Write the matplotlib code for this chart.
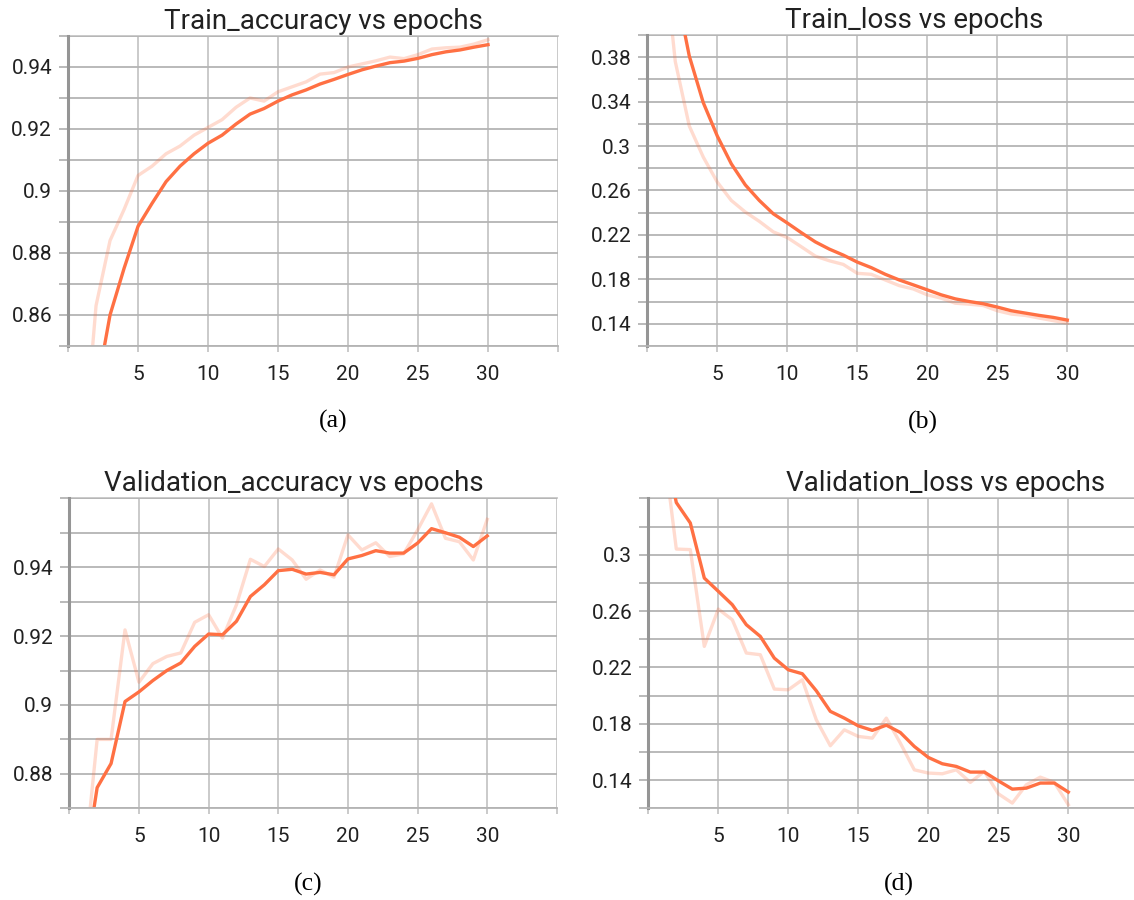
import matplotlib
matplotlib.use("Agg")
import matplotlib.pyplot as plt
from matplotlib.ticker import FixedLocator, NullFormatter

epochs = list(range(1, 31))

# raw (faint) and smoothed (solid) curves per metric
train_acc_raw = [0.809, 0.863, 0.884, 0.894, 0.905, 0.908, 0.912, 0.9145, 0.918, 0.9205,
                 0.923, 0.927, 0.930, 0.929, 0.932, 0.9336, 0.9352, 0.9377, 0.9382, 0.940,
                 0.941, 0.942, 0.9432, 0.9427, 0.944, 0.9458, 0.9462, 0.9464, 0.9474, 0.9488]
train_acc_smooth = [0.809, 0.835, 0.860, 0.875, 0.8886, 0.896, 0.903, 0.908, 0.912, 0.9154,
                    0.918, 0.9216, 0.9248, 0.9266, 0.929, 0.931, 0.9326, 0.9345, 0.936, 0.9376,
                    0.9391, 0.9403, 0.9414, 0.9419, 0.9428, 0.944, 0.9449, 0.9455, 0.9464, 0.9472]

train_loss_raw = [0.496, 0.376, 0.318, 0.290, 0.2675, 0.251, 0.2406, 0.2322, 0.2227, 0.2176,
                  0.2093, 0.2009, 0.1967, 0.1934, 0.1854, 0.1845, 0.1794, 0.1743, 0.1713, 0.166,
                  0.163, 0.1585, 0.1576, 0.1564, 0.1517, 0.1487, 0.1475, 0.1451, 0.1428, 0.1406]
train_loss_smooth = [0.496, 0.444, 0.381, 0.339, 0.309, 0.284, 0.265, 0.251, 0.239, 0.2307,
                     0.222, 0.2137, 0.2072, 0.2018, 0.1955, 0.1905, 0.1845, 0.1794, 0.175, 0.1705,
                     0.166, 0.1624, 0.160, 0.158, 0.155, 0.1517, 0.1496, 0.1475, 0.1457, 0.1433]

val_acc_raw = [0.850, 0.890, 0.890, 0.9218, 0.9066, 0.912, 0.9141, 0.9151, 0.924, 0.9262,
               0.9194, 0.9291, 0.9423, 0.9402, 0.9453, 0.9421, 0.9365, 0.9392, 0.9371, 0.9494,
               0.945, 0.9471, 0.9431, 0.9439, 0.9508, 0.9584, 0.9484, 0.9474, 0.9421, 0.9539]
val_acc_smooth = [0.850, 0.876, 0.883, 0.901, 0.9038, 0.9071, 0.910, 0.9122, 0.917, 0.9206,
                  0.9204, 0.9243, 0.9315, 0.9349, 0.939, 0.9394, 0.938, 0.9385, 0.9378, 0.9424,
                  0.9434, 0.9448, 0.9441, 0.9441, 0.947, 0.9512, 0.950, 0.9487, 0.946, 0.9491]

val_loss_raw = [0.384, 0.304, 0.3036, 0.2349, 0.2614, 0.2538, 0.2302, 0.229, 0.2046, 0.2041,
                0.2112, 0.1828, 0.1644, 0.1757, 0.171, 0.1698, 0.184, 0.1663, 0.1473, 0.145,
                0.1445, 0.1473, 0.1384, 0.1462, 0.1303, 0.1237, 0.1367, 0.1421, 0.1384, 0.1225]
val_loss_smooth = [0.384, 0.337, 0.3225, 0.2834, 0.274, 0.2645, 0.2503, 0.242, 0.2266, 0.2183,
                   0.2155, 0.2034, 0.1888, 0.184, 0.1785, 0.1753, 0.179, 0.1738, 0.1639, 0.1561,
                   0.1516, 0.1497, 0.1457, 0.1457, 0.1395, 0.1336, 0.1343, 0.1379, 0.1379, 0.1315]

ORANGE = "#ff7043"
GRID = "#b4b4b4"
VGRID = "#c6c6c6"
TEXT = "#212121"

plt.rcParams["font.family"] = ["Roboto", "DejaVu Sans"]

fig = plt.figure(figsize=(11.34, 9), dpi=100)

panels = [
    # rect, title, title x, raw, smooth, ylim, labelled ticks, all grid ticks, caption, caption pos
    ([0.0600, 0.6156, 0.4321, 0.3444], "Train_accuracy vs epochs", 0.522,
     train_acc_raw, train_acc_smooth, (0.85, 0.95),
     [0.86, 0.88, 0.90, 0.92, 0.94], [0.85, 0.87, 0.89, 0.91, 0.93, 0.95],
     "(a)", (333, 421)),
    ([0.5708, 0.6156, 0.4321, 0.3456], "Train_loss vs epochs", 0.545,
     train_loss_raw, train_loss_smooth, (0.12, 0.40),
     [0.14, 0.18, 0.22, 0.26, 0.30, 0.34, 0.38], [0.12, 0.16, 0.20, 0.24, 0.28, 0.32, 0.36, 0.40],
     "(b)", (923, 422)),
    ([0.0611, 0.1019, 0.4300, 0.3444], "Validation_accuracy vs epochs", 0.461,
     val_acc_raw, val_acc_smooth, (0.87, 0.96),
     [0.88, 0.90, 0.92, 0.94], [0.87, 0.89, 0.91, 0.93, 0.95, 0.96],
     "(c)", (308, 884)),
    ([0.5717, 0.1019, 0.4321, 0.3444], "Validation_loss vs epochs", 0.606,
     val_loss_raw, val_loss_smooth, (0.12, 0.34),
     [0.14, 0.18, 0.22, 0.26, 0.30], [0.12, 0.16, 0.20, 0.24, 0.28, 0.32, 0.34],
     "(d)", (899, 884)),
]

for rect, title, tx, raw, smooth, ylim, major, minor, cap, cpos in panels:
    ax = fig.add_axes(rect)
    ax.plot(epochs, raw, color=ORANGE, alpha=0.25, lw=2.4)
    ax.plot(epochs, smooth, color=ORANGE, lw=2.4)
    ax.set_xlim(0, 35)
    ax.set_ylim(*ylim)

    ax.xaxis.set_major_locator(FixedLocator([0, 5, 10, 15, 20, 25, 30, 35]))
    ax.set_xticklabels(["", "5", "10", "15", "20", "25", "30", ""])
    ax.yaxis.set_major_locator(FixedLocator(major))
    ax.yaxis.set_minor_locator(FixedLocator(minor))
    ax.yaxis.set_minor_formatter(NullFormatter())
    ax.set_yticklabels([("%.2f" % v).rstrip("0").rstrip(".") for v in major])

    ax.grid(True, which="both", axis="y", color=GRID, lw=1.3)
    ax.grid(True, which="major", axis="x", color=VGRID, lw=1.3)
    ax.set_axisbelow(True)
    # top edge line sits on the last grid value
    ax.axhline(ylim[1], color=VGRID, lw=1.3, clip_on=False, zorder=0.5)

    ax.tick_params(axis="y", which="both", length=6.5, width=1.3, color=GRID,
                   labelsize=15, labelcolor=TEXT, pad=5)
    ax.tick_params(axis="x", length=4.5, width=1.3, color=VGRID,
                   labelsize=15, labelcolor=TEXT, pad=9)

    for side in ["top", "right"]:
        ax.spines[side].set_visible(False)
    ax.spines["bottom"].set_color(GRID)
    ax.spines["bottom"].set_linewidth(1.3)
    ax.spines["left"].set_color("#959595")
    ax.spines["left"].set_linewidth(2.2)

    ax.set_title(title, x=tx, pad=5, fontsize=20, color=TEXT)

    fig.text(cpos[0] / 1134, 1 - cpos[1] / 900, cap, ha="center", va="center",
             fontsize=18.5, family="Liberation Serif", color="black")

fig.savefig("out.png", dpi=100)
